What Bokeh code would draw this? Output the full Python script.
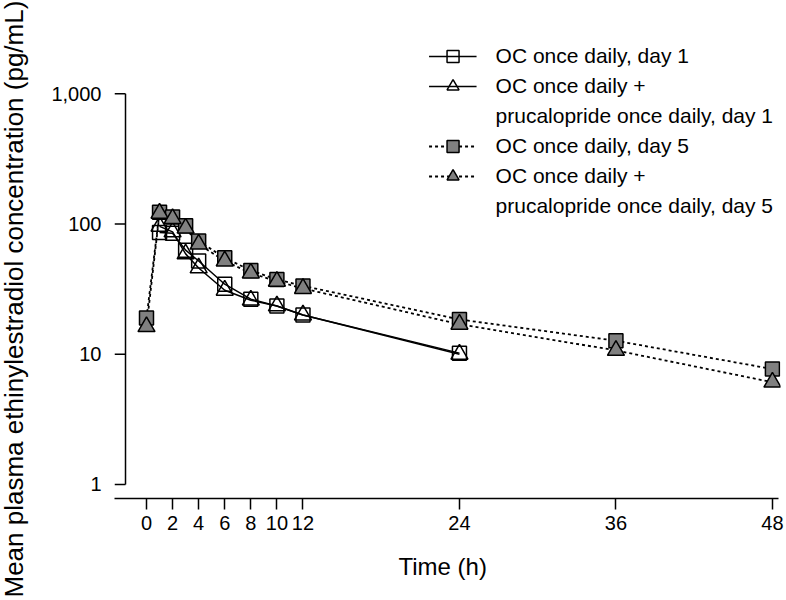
from bokeh.plotting import figure
from bokeh.models import FixedTicker, Legend, LegendItem, Range1d, Title
from bokeh.embed import file_html
from bokeh.resources import INLINE

# ---- data ----
t_day1 = [1, 2, 3, 4, 6, 8, 10, 12, 24]
oc_day1 = [86, 85, 63, 52, 34.5, 26.5, 23.5, 20, 10.2]
ocpru_day1 = [96, 87, 59, 46, 31, 26, 23.5, 20, 10]

t_day5 = [0, 1, 2, 3, 4, 6, 8, 10, 12, 24, 36, 48]
oc_day5 = [19, 123, 113, 97, 74, 55, 44, 37.5, 33.5, 18.5, 12.7, 7.7]
ocpru_day5 = [16.3, 121, 110, 93, 70, 52, 42, 36.3, 32, 17, 10.7, 6.1]

x_ticks = [0, 2, 4, 6, 8, 10, 12, 24, 36, 48]
y_ticks = [1, 10, 100, 1000]
y_tick_labels = {1: "1", 10: "10", 100: "100", 1000: "1,000"}

labels = ["OC once daily, day 1", "OC once daily +", "prucalopride once daily, day 1",
          "OC once daily, day 5", "OC once daily +", "prucalopride once daily, day 5"]
x_label = "Time (h)"
y_label = "Mean plasma ethinylestradiol concentration (pg/mL)"

# ---- style ----
FONT = "Liberation Sans"
GREY = "#808080"
X_START, X_END = -2.454, 48.62
Y_START, Y_END = 0.7806, 2853
Y_AXIS_X = -1.61          # where the (detached) y axis line sits
X_AXIS_BOUNDS = (-2.454, 48.46)

p = figure(width=784, height=598, output_backend="svg", toolbar_location=None,
           y_axis_type="log",
           x_range=Range1d(X_START, X_END), y_range=Range1d(Y_START, Y_END),
           min_border_left=114, min_border_right=4, min_border_top=34, min_border_bottom=100)
p.outline_line_color = None
p.xgrid.visible = False
p.ygrid.visible = False

xa = p.xaxis[0]
xa.axis_line_color = "black"
xa.axis_line_width = 1.5
xa.major_tick_line_color = "black"
xa.major_tick_line_width = 1.5
xa.major_tick_out = 11
xa.major_tick_in = 0
xa.minor_tick_line_color = None
xa.ticker = FixedTicker(ticks=x_ticks)
xa.bounds = X_AXIS_BOUNDS
xa.major_label_text_font = FONT
xa.major_label_text_font_size = "20px"
xa.major_label_text_color = "black"
xa.major_label_standoff = 6

ya = p.yaxis[0]
ya.axis_line_color = None
ya.major_tick_line_color = None
ya.minor_tick_line_color = None
ya.major_tick_out = 0
ya.major_tick_in = 0
ya.ticker = FixedTicker(ticks=y_ticks)
ya.bounds = (y_ticks[0], y_ticks[-1])
ya.major_label_overrides = y_tick_labels
ya.major_label_text_font = FONT
ya.major_label_text_font_size = "20px"
ya.major_label_text_color = "black"
ya.major_label_standoff = 13

has_padding = "padding" in Title.properties()

# y axis title, placed in the left border
ytitle = Title(text=y_label, align="left", vertical_align="bottom", offset=-99, standoff=0,
               text_font=FONT, text_font_size="26px", text_font_style="normal",
               text_color="black")
if has_padding:
    ytitle.padding = dict(left=0, right=0, top=0, bottom=20)
p.add_layout(ytitle, "left")

# x axis title, placed in the bottom border
xtitle = Title(text=x_label, align="left", vertical_align="top", offset=284, standoff=0,
               text_font=FONT, text_font_size="24px", text_font_style="normal",
               text_color="black")
if has_padding:
    xtitle.padding = dict(left=0, right=0, top=20, bottom=0)
else:
    xtitle.standoff = 40
p.add_layout(xtitle, "below")

# detached y axis line and its ticks
p.segment(x0=[Y_AXIS_X], y0=[y_ticks[0]], x1=[Y_AXIS_X], y1=[y_ticks[-1]],
          line_color="black", line_width=1.5)
p.segment(x0=[X_START] * len(y_ticks), y0=y_ticks, x1=[Y_AXIS_X] * len(y_ticks), y1=y_ticks,
          line_color="black", line_width=1.5)

# ---- day 1 (open markers, solid lines) ----
l1 = p.line(t_day1, oc_day1, line_color="black", line_width=1.5)
l2 = p.line(t_day1, ocpru_day1, line_color="black", line_width=1.5)
s1 = p.scatter(t_day1, oc_day1, marker="square", size=14, fill_alpha=0,
               line_color="black", line_width=1.5)
s2 = p.scatter(t_day1, ocpru_day1, marker="triangle", size=17, fill_alpha=0,
               line_color="black", line_width=1.5)

# ---- day 5 (filled grey markers, dotted lines) ----
l3 = p.line(t_day5, oc_day5, line_color="black", line_width=1.8, line_dash="3 3")
l4 = p.line(t_day5, ocpru_day5, line_color="black", line_width=1.8, line_dash="3 3")
s3 = p.scatter(t_day5, oc_day5, marker="square", size=14, fill_color=GREY,
               line_color="black", line_width=1.5)
s4 = p.scatter(t_day5, ocpru_day5, marker="triangle", size=17, fill_color=GREY,
               line_color="black", line_width=1.5)

blank = p.line([], [], line_alpha=0)

legend = Legend(items=[
    LegendItem(label=labels[0], renderers=[l1, s1]),
    LegendItem(label=labels[1], renderers=[l2, s2]),
    LegendItem(label=labels[2], renderers=[blank]),
    LegendItem(label=labels[3], renderers=[l3, s3]),
    LegendItem(label=labels[4], renderers=[l4, s4]),
    LegendItem(label=labels[5], renderers=[blank]),
], location="top_right")
legend.border_line_color = None
legend.background_fill_alpha = 0
legend.label_text_font = FONT
legend.label_text_font_size = "21px"
legend.label_text_color = "black"
legend.glyph_width = 48
legend.glyph_height = 30
legend.label_height = 20
legend.label_standoff = 19
legend.spacing = -4
legend.padding = 0
legend.margin = 7
p.add_layout(legend)

open("out.html", "w").write(file_html(p, INLINE))
